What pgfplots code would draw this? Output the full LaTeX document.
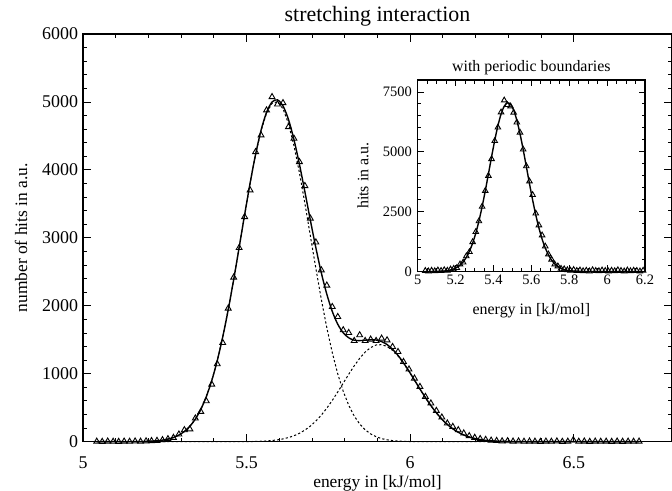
\documentclass[border=0pt]{standalone}
\usepackage{fontspec}
\setmainfont{Liberation Serif}
\usepackage{pgfplots}
\usepackage{pgfplotstable}
\pgfplotsset{compat=1.18}

% stretching interaction histogram: data, fit (sum) and the two gaussians
\pgfplotstableread{
x      data  fit   ga    gb
5.0420 3     0     0     0
5.0587 0     0     0     0
5.0755 5     0     0     0
5.0922 2     0     0     0
5.1090 0     0     0     0
5.1257 4     0     0     0
5.1424 2     0     0     0
5.1592 6     1     1     0
5.1759 3     2     2     0
5.1927 8     4     4     0
5.2094 12    8     8     0
5.2261 15    13    13    0
5.2429 25    23    23    0
5.2596 40    38    38    0
5.2764 59    62    62    0
5.2931 109   98    98    0
5.3098 172   151   151   0
5.3266 185   227   227   0
5.3433 344   333   333   0
5.3601 441   476   476   0
5.3768 598   663   663   0
5.3935 844   900   900   0
5.4103 1143  1193  1193  0
5.4270 1456  1541  1541  0
5.4438 1962  1943  1943  0
5.4605 2418  2386  2386  0
5.4772 2853  2858  2858  0
5.4940 3309  3341  3340  1
5.5107 3701  3806  3804  2
5.5275 4265  4231  4227  4
5.5442 4510  4585  4578  7
5.5609 4878  4846  4835  11
5.5777 5074  4999  4981  18
5.5944 4966  5030  5003  27
5.6112 4985  4941  4900  41
5.6279 4632  4742  4681  61
5.6446 4462  4447  4360  87
5.6614 4118  4083  3959  124
5.6781 3765  3678  3507  171
5.6949 3285  3257  3027  230
5.7116 2935  2855  2551  304
5.7283 2525  2486  2095  391
5.7451 2300  2171  1677  494
5.7618 1985  1918  1310  608
5.7786 1838  1728  996   732
5.7953 1643  1603  741   862
5.8120 1603  1529  537   992
5.8288 1485  1494  378   1116
5.8455 1569  1488  261   1227
5.8623 1485  1494  175   1319
5.8790 1506  1500  115   1385
5.8957 1485  1496  73    1423
5.9125 1520  1473  45    1428
5.9292 1495  1430  28    1402
5.9460 1397  1361  16    1345
5.9627 1323  1270  9     1261
5.9794 1176  1161  5     1156
5.9962 1065  1038  3     1035
6.0129 932   908   1     907
6.0297 809   776   0     776
6.0464 662   650   0     650
6.0631 565   532   0     532
6.0799 456   425   0     425
6.0966 359   332   0     332
6.1134 271   254   0     254
6.1301 221   190   0     190
6.1468 172   139   0     139
6.1636 124   99    0     99
6.1803 84    69    0     69
6.1971 60    47    0     47
6.2138 42    31    0     31
6.2305 30    20    0     20
6.2473 18    13    0     13
6.2640 14    8     0     8
6.2808 8     5     0     5
6.2975 10    3     0     3
6.3142 4     2     0     2
6.3310 6     1     0     1
6.3477 2     0     0     0
6.3645 5     0     0     0
6.3812 3     0     0     0
6.3979 0     0     0     0
6.4147 4     0     0     0
6.4314 2     0     0     0
6.4482 6     0     0     0
6.4649 1     0     0     0
6.4816 3     0     0     0
6.4984 25    0     0     0
6.5151 2     0     0     0
6.5319 5     0     0     0
6.5486 0     0     0     0
6.5653 4     0     0     0
6.5821 2     0     0     0
6.5988 3     0     0     0
6.6156 0     0     0     0
6.6323 5     0     0     0
6.6490 1     0     0     0
6.6658 3     0     0     0
6.6825 2     0     0     0
6.6993 4     0     0     0
}\mainhist

% periodic boundaries: data and fit
\pgfplotstableread{
x      data  fit
5.0400 30    0
5.0567 10    0
5.0733 40    1
5.0900 20    3
5.1067 50    6
5.1233 30    12
5.1400 60    21
5.1567 40    38
5.1733 90    64
5.1900 120   106
5.2067 150   170
5.2233 300   264
5.2400 380   402
5.2567 640   593
5.2733 820   849
5.2900 1230  1184
5.3067 1655  1605
5.3233 2103  2112
5.3400 2711  2706
5.3567 3370  3369
5.3733 4000  4073
5.3900 4700  4792
5.4067 5456  5479
5.4233 6018  6086
5.4400 6651  6575
5.4567 7150  6903
5.4733 6960  7045
5.4900 6900  6990
5.5067 6640  6740
5.5233 6230  6320
5.5400 5807  5758
5.5567 5101  5099
5.5733 4400  4393
5.5900 3767  3675
5.6067 3201  2988
5.6233 2428  2366
5.6400 1934  1818
5.6567 1512  1357
5.6733 1050  987
5.6900 720   697
5.7067 500   478
5.7233 300   319
5.7400 220   207
5.7567 120   130
5.7733 100   80
5.7900 60    48
5.8067 40    28
5.8233 70    16
5.8400 30    9
5.8567 50    5
5.8733 20    2
5.8900 40    0
5.9067 10    0
5.9233 60    0
5.9400 30    0
5.9567 20    0
5.9733 50    0
5.9900 30    0
6.0067 10    0
6.0233 40    0
6.0400 20    0
6.0567 60    0
6.0733 30    0
6.0900 10    0
6.1067 50    0
6.1233 20    0
6.1400 40    0
6.1567 30    0
6.1733 10    0
6.1900 40    0
}\pbchist

\pgfplotsset{
  hist/.style={
    scale only axis, clip=false,
    axis line style={line width=1.4bp},
    tick style={line width=0.9bp, black},
    major tick length=8bp, minor tick length=4bp,
    /pgf/number format/assume math mode=true,
    /pgf/number format/1000 sep={},
  },
}

\begin{document}
\begin{tikzpicture}
\useasboundingbox (-83bp,-49.3bp) rectangle (589bp,441.7bp);
\begin{axis}[hist,
  at={(0,0)}, anchor=south west,
  width=589bp, height=407.7bp,
  xmin=5, xmax=6.8, ymin=0, ymax=6000,
  xtick={5,5.5,6,6.5}, minor x tick num=4,
  ytick={0,1000,2000,3000,4000,5000,6000}, minor y tick num=4,
  tick label style={font=\fontsize{18}{20}\selectfont, inner sep=0pt},
  xticklabel style={anchor=base, yshift=-26.6bp},
  yticklabel style={anchor=east, xshift=-4.7bp},
  label style={font=\fontsize{17.5}{20}\selectfont, inner sep=0pt},
  xlabel={energy in [kJ/mol]},
  xlabel style={at={(axis description cs:0.5,0)}, anchor=base, yshift=-46bp},
  ylabel={number of hits in a.u.},
  ylabel style={at={(axis description cs:0,0.5)}, anchor=center, yshift=62bp},
  title={stretching interaction},
  title style={font=\fontsize{22}{24}\selectfont, inner sep=0pt,
    at={(axis description cs:0.5,1)}, anchor=base, yshift=6.6bp},
]
\addplot[black, line width=1.4bp, smooth] table[x=x, y=fit] {\mainhist};
\addplot[black, line width=1bp, dash pattern=on 2.2bp off 2.2bp] table[x=x, y=ga] {\mainhist};
\addplot[black, line width=1bp, dash pattern=on 2.2bp off 2.2bp] table[x=x, y=gb] {\mainhist};
\addplot[black, only marks, mark=triangle, mark size=3.4bp,
  mark options={line width=0.9bp}] table[x=x, y=data] {\mainhist};
\end{axis}

\begin{axis}[hist,
  at={(334.7bp,170.2bp)}, anchor=south west,
  width=227.3bp, height=191.5bp,
  axis background/.style={fill=white},
  xmin=5, xmax=6.2, ymin=0, ymax=8000,
  xtick={5,5.2,5.4,5.6,5.8,6,6.2}, minor x tick num=3,
  ytick={0,2500,5000,7500}, minor y tick num=4,
  major tick length=6bp, minor tick length=3.5bp,
  tick label style={font=\fontsize{14.5}{16}\selectfont, inner sep=0pt},
  xticklabel style={anchor=base, yshift=-12.8bp},
  yticklabel style={anchor=east, xshift=-5.7bp},
  label style={font=\fontsize{16}{18}\selectfont, inner sep=0pt},
  xlabel={energy in [kJ/mol]},
  xlabel style={at={(axis description cs:0.5,0)}, anchor=base, yshift=-43.5bp},
  ylabel={hits in a.u.},
  ylabel style={at={(axis description cs:0,0.5)}, anchor=center, yshift=54.7bp},
  title={with periodic boundaries},
  title style={font=\fontsize{16}{18}\selectfont, inner sep=0pt,
    at={(axis description cs:0.5,1)}, anchor=base, yshift=3bp},
]
\addplot[black, line width=1.4bp, smooth] table[x=x, y=fit] {\pbchist};
\addplot[black, only marks, mark=triangle, mark size=3.2bp,
  mark options={line width=0.9bp}] table[x=x, y=data] {\pbchist};
\end{axis}
\end{tikzpicture}
\end{document}
